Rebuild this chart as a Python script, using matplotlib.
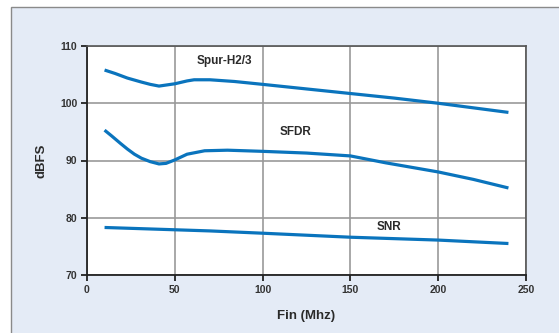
import matplotlib
matplotlib.use("Agg")
import matplotlib.pyplot as plt
from matplotlib.patches import Rectangle

plt.rcParams['font.family'] = ['Liberation Sans Narrow', 'Liberation Sans', 'DejaVu Sans']

# -- data ----------------------------------------------------------------
spur_x = [10, 16, 23, 31, 36, 41, 50, 57, 61, 70, 84, 100, 125, 150, 175, 200, 220, 240]
spur_y = [105.8, 105.2, 104.4, 103.7, 103.3, 103.0, 103.4, 103.9, 104.1, 104.1, 103.8, 103.3,
          102.5, 101.7, 100.9, 100.0, 99.2, 98.4]

sfdr_x = [10, 14, 19, 23, 27, 31, 36, 41, 45, 50, 57, 67, 80, 100, 125, 150, 170, 200, 220, 240]
sfdr_y = [95.3, 94.3, 93.0, 92.0, 91.1, 90.4, 89.8, 89.4, 89.5, 90.1, 91.1, 91.7, 91.8, 91.6,
          91.3, 90.8, 89.6, 88.0, 86.7, 85.2]

snr_x = [10, 50, 70, 100, 150, 200, 240]
snr_y = [78.3, 77.9, 77.7, 77.3, 76.6, 76.1, 75.5]

labels = ["Spur-H2/3", "SFDR", "SNR"]
label_pos = [(78, 107.3), (118.5, 94.9), (172, 78.3)]

xticks = [0, 50, 100, 150, 200, 250]
yticks = [70, 80, 90, 100, 110]

# -- figure --------------------------------------------------------------
fig = plt.figure(figsize=(5.59, 3.33), dpi=100)
fig.patch.set_facecolor("white")
fig.patches.append(Rectangle((11 / 559, -0.01), 1.0, 1 - 7 / 333 + 0.01,
                             transform=fig.transFigure, facecolor="#e4ebf6",
                             edgecolor="#8a8a8a", linewidth=1.0, zorder=-1))

ax = fig.add_axes([87 / 559, 1 - 275 / 333, (526 - 87) / 559, (275 - 46) / 333])
ax.set_zorder(2)
ax.set_facecolor("white")

line_c = "#0a74bd"
for xs, ys in [(spur_x, spur_y), (sfdr_x, sfdr_y), (snr_x, snr_y)]:
    ax.plot(xs, ys, color=line_c, linewidth=2.3, solid_capstyle="butt", zorder=3)

for txt, (tx, ty) in zip(labels, label_pos):
    ax.text(tx, ty, txt, ha="center", va="center", fontsize=8.5,
            fontweight="bold", color="#2a2a2a", zorder=4)

ax.set_xlim(0, 250)
ax.set_ylim(70, 110)
ax.set_xticks(xticks)
ax.set_yticks(yticks)
ax.grid(True, color="#999999", linewidth=1.2, zorder=1)
ax.set_axisbelow(True)

for side in ["top", "right"]:
    ax.spines[side].set_color("#555555")
    ax.spines[side].set_linewidth(1.2)
for side in ["left", "bottom"]:
    ax.spines[side].set_color("#222222")
    ax.spines[side].set_linewidth(1.3)

ax.tick_params(direction="out", length=4, width=1.3, color="#222222",
               labelsize=7.5, labelcolor="#333333", pad=3)
for lbl in ax.get_xticklabels() + ax.get_yticklabels():
    lbl.set_fontweight("bold")

ax.set_xlabel("Fin (Mhz)", fontsize=9.5, fontweight="bold", color="#2a2a2a", labelpad=11)
ax.set_ylabel("dBFS", fontsize=9.5, fontweight="bold", color="#2a2a2a", labelpad=9)

fig.savefig("out.png", dpi=100)
